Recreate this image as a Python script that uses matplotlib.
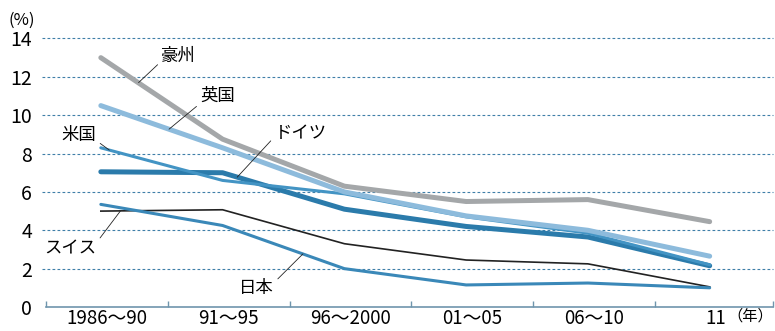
import matplotlib.pyplot as plt

plt.rcParams['font.family'] = ['Noto Sans CJK JP', 'DejaVu Sans']

periods = ['1986～90', '91～95', '96～2000', '01～05', '06～10', '11']
australia = [13.0, 8.75, 6.3, 5.5, 5.6, 4.45]
uk = [10.5, 8.3, 6.0, 4.75, 4.0, 2.65]
us = [8.3, 6.6, 5.9, 4.7, 3.85, 2.2]
germany = [7.05, 7.0, 5.1, 4.2, 3.65, 2.15]
switzerland = [5.0, 5.07, 3.3, 2.45, 2.25, 1.05]
japan = [5.35, 4.25, 2.0, 1.15, 1.25, 1.0]
y_ticks = [0, 2, 4, 6, 8, 10, 12, 14]

x = list(range(len(periods)))

fig = plt.figure(figsize=(7.75, 3.31), dpi=100)
ax = fig.add_axes([0.0594, 0.0725, 0.938, 0.846])

grid_color = '#3f7fa8'
for v in y_ticks[1:]:
    ax.axhline(v, xmin=-0.006, color=grid_color, lw=0.8, ls=(0, (2.5, 2)), zorder=1, clip_on=False)

ax.plot(x, switzerland, color='#222222', lw=1.2, zorder=3)
ax.plot(x, japan, color='#3a88b8', lw=2.2, zorder=3, solid_capstyle='round')
ax.plot(x, germany, color='#2b7bab', lw=3.6, zorder=4, solid_capstyle='round')
ax.plot(x, us, color='#4394c4', lw=2.2, zorder=5, solid_capstyle='round')
ax.plot(x, uk, color='#8dbbdc', lw=3.6, zorder=6, solid_capstyle='round')
ax.plot(x, australia, color='#a4a7a9', lw=3.6, zorder=7, solid_capstyle='round')

# 系列名と引き出し線
labels = [
    ('豪州', (0.64, 13.1), (0.31, 11.7), (0.0, 0.2)),
    ('英国', (0.96, 11.0), (0.56, 9.27), (0.0, 0.1)),
    ('米国', (-0.18, 8.96), (0.07, 8.18), (1.0, 0.2)),
    ('ドイツ', (1.64, 9.06), (1.12, 6.77), (0.0, 0.3)),
    ('スイス', (-0.25, 3.07), (0.16, 5.0), (1.0, 0.8)),
    ('日本', (1.28, 0.99), (1.66, 2.77), (1.0, 0.8)),
]
for name, txt_pos, pt, rel in labels:
    ax.annotate(name, xy=pt, xytext=txt_pos, ha='center', va='center', fontsize=12.5,
                arrowprops=dict(arrowstyle='-', color='#222222', lw=0.6, relpos=rel,
                                shrinkA=1, shrinkB=0), zorder=8)

ax.set_xlim(-0.45, 5.52)
ax.set_ylim(0, 14.6)

ax.set_yticks(y_ticks)
ax.set_yticklabels([str(v) for v in y_ticks], fontsize=14)
ax.tick_params(axis='y', length=0, pad=10)

ax.set_xticks([i + 0.05 for i in x])
ax.set_xticklabels(periods, fontsize=13.5)
ax.set_xticks([-0.45, 0.55, 1.55, 2.55, 3.55, 4.55, 5.52], minor=True)
ax.tick_params(axis='x', which='major', length=0, pad=1)
ax.tick_params(axis='x', which='minor', direction='in', length=4, color='#6f95ad', width=1)

for s in ['top', 'right', 'left']:
    ax.spines[s].set_visible(False)
ax.spines['bottom'].set_color('#6f95ad')
ax.spines['bottom'].set_linewidth(1.2)

fig.text(0.011, 0.94, '(%)', fontsize=12, va='center')
fig.text(0.998, 0.045, '（年）', fontsize=11, va='center', ha='right')

plt.savefig('out.png', dpi=100)
